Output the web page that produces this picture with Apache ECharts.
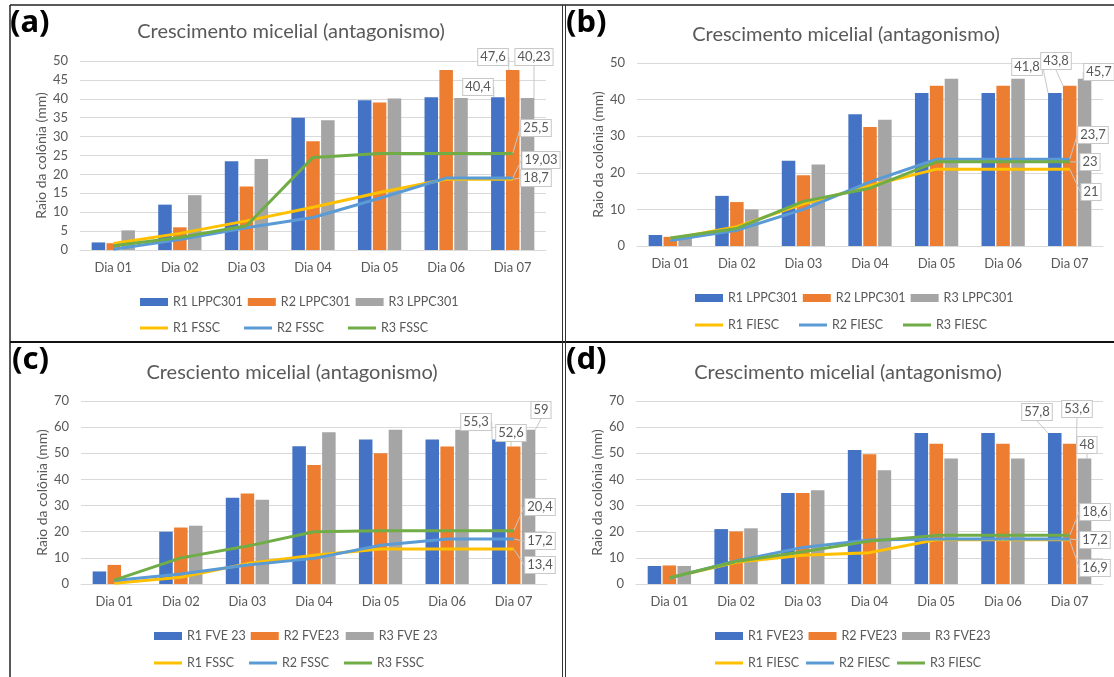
<!DOCTYPE html>
<html>
<head>
<meta charset="utf-8">
<script src="https://cdn.jsdelivr.net/npm/echarts@6/dist/echarts.min.js"></script>
<style>
  html, body { margin: 0; padding: 0; background: #fff; }
  #chart { width: 1114px; height: 677px; }
</style>
</head>
<body>
<div id="chart"></div>
<script>
// categories
var days = ['Dia 01', 'Dia 02', 'Dia 03', 'Dia 04', 'Dia 05', 'Dia 06', 'Dia 07'];

// (a) LPPC301 x FSSC
var aR1Bar = [2, 12, 23.5, 35, 39.6, 40.4, 40.4];
var aR2Bar = [1.8, 6, 16.8, 28.8, 39, 47.6, 47.6];
var aR3Bar = [5.2, 14.5, 24.1, 34.3, 40.1, 40.23, 40.23];
var aR1Line = [1.7, 4.4, 7.7, 11.3, 15.2, 18.7, 18.7];
var aR2Line = [0.2, 2.8, 5.9, 8.6, 13.7, 19.03, 19.03];
var aR3Line = [1.1, 3.3, 6.4, 24.5, 25.5, 25.5, 25.5];

// (b) LPPC301 x FIESC
var bR1Bar = [3, 13.7, 23.3, 36, 41.8, 41.8, 41.8];
var bR2Bar = [2.5, 12, 19.3, 32.5, 43.8, 43.8, 43.8];
var bR3Bar = [2.2, 10, 22.3, 34.5, 45.7, 45.7, 45.7];
var bR1Line = [1.9, 5.3, 11.5, 16.5, 21, 21, 21];
var bR2Line = [1.5, 4.3, 10, 17.5, 23.7, 23.7, 23.7];
var bR3Line = [2.2, 4.8, 12.2, 15.8, 23, 23, 23];

// (c) FVE 23 x FSSC
var cR1Bar = [4.8, 20, 33, 52.7, 55.3, 55.3, 55.3];
var cR2Bar = [7.3, 21.6, 34.6, 45.5, 50, 52.6, 52.6];
var cR3Bar = [0, 22.3, 32.2, 58, 59, 59, 59];
var cR1Line = [0.3, 2.6, 7.8, 11, 13.4, 13.4, 13.4];
var cR2Line = [1.3, 3.8, 7.3, 9.8, 14.8, 17.2, 17.2];
var cR3Line = [1.5, 10, 14.5, 20, 20.4, 20.4, 20.4];

// (d) FVE23 x FIESC
var dR1Bar = [6.9, 21, 34.8, 51.3, 57.8, 57.8, 57.8];
var dR2Bar = [7.1, 20.1, 34.8, 49.6, 53.6, 53.6, 53.6];
var dR3Bar = [6.9, 21.3, 35.9, 43.5, 48, 48, 48];
var dR1Line = [2.3, 8.3, 11, 12, 16.9, 16.9, 16.9];
var dR2Line = [2.2, 8.8, 14, 16.8, 17.2, 17.2, 17.2];
var dR3Line = [2.4, 8.6, 12.3, 16.4, 18.6, 18.6, 18.6];

// legend names
var aBarNames = ['R1 LPPC301', 'R2 LPPC301', 'R3 LPPC301'];
var aLineNames = ['R1 FSSC', 'R2 FSSC', 'R3 FSSC'];
var bLineNames = ['R1 FIESC', 'R2 FIESC', 'R3 FIESC'];
var cBarNames = ['R1 FVE 23', 'R2 FVE23', 'R3 FVE 23'];
var dBarNames = ['R1 FVE23', 'R2 FVE23', 'R3 FVE23'];

var FONT = 'Lato';
var TXT = '#595959';
var barColors = ['#4472C4', '#ED7D31', '#A5A5A5'];
var lineColors = ['#FFC000', '#5B9BD5', '#70AD47'];

function fmt(p) {
    return String(p.value).replace('.', ',');
}

function mk(type, name, vals, k, gi, pos) {
    var last = vals.length - 1;
    var s = {
        type: type,
        name: name,
        xAxisIndex: gi,
        yAxisIndex: gi,
        data: vals.map(function (v, i) {
            return i === last ? {value: v, label: {show: true}} : v;
        }),
        label: {
            show: false, formatter: fmt, color: TXT, fontFamily: FONT, fontSize: 13,
            backgroundColor: '#fff', borderColor: '#c8c8c8', borderWidth: 1, padding: [2, 2, 1, 2]
        },
        labelLine: {show: true, lineStyle: {color: '#c8c8c8', width: 1}},
        labelLayout: {x: pos[0], y: pos[1], align: 'center', verticalAlign: 'middle'},
        animation: false
    };
    if (type === 'line') {
        s.symbol = 'circle';
        s.symbolSize = 1;
        s.itemStyle = {color: lineColors[k]};
        s.lineStyle = {width: 3, color: lineColors[k]};
        s.z = 3;
    } else {
        s.itemStyle = {color: barColors[k]};
        s.barGap = '10%';
        s.barCategoryGap = '35%';
    }
    return s;
}

var series = [].concat(
    mk('bar', aBarNames[0], aR1Bar, 0, 0, [478, 87]),
    mk('bar', aBarNames[1], aR2Bar, 1, 0, [493, 57]),
    mk('bar', aBarNames[2], aR3Bar, 2, 0, [534, 57]),
    mk('line', aLineNames[0], aR1Line, 0, 0, [536, 178]),
    mk('line', aLineNames[1], aR2Line, 1, 0, [541, 160]),
    mk('line', aLineNames[2], aR3Line, 2, 0, [536, 128]),

    mk('bar', aBarNames[0], bR1Bar, 0, 1, [1027, 67]),
    mk('bar', aBarNames[1], bR2Bar, 1, 1, [1056, 61]),
    mk('bar', aBarNames[2], bR3Bar, 2, 1, [1099, 72]),
    mk('line', bLineNames[0], bR1Line, 0, 1, [1091, 192]),
    mk('line', bLineNames[1], bR2Line, 1, 1, [1093, 135]),
    mk('line', bLineNames[2], bR3Line, 2, 1, [1090, 162]),

    mk('bar', cBarNames[0], cR1Bar, 0, 2, [476, 422]),
    mk('bar', cBarNames[1], cR2Bar, 1, 2, [511, 433]),
    mk('bar', cBarNames[2], cR3Bar, 2, 2, [541, 410]),
    mk('line', aLineNames[0], cR1Line, 0, 2, [540, 565]),
    mk('line', aLineNames[1], cR2Line, 1, 2, [540, 541]),
    mk('line', aLineNames[2], cR3Line, 2, 2, [540, 507]),

    mk('bar', dBarNames[0], dR1Bar, 0, 3, [1037, 412]),
    mk('bar', dBarNames[1], dR2Bar, 1, 3, [1077, 409]),
    mk('bar', dBarNames[2], dR3Bar, 2, 3, [1087, 445]),
    mk('line', bLineNames[0], dR1Line, 0, 3, [1095, 568]),
    mk('line', bLineNames[1], dR2Line, 1, 3, [1095, 540]),
    mk('line', bLineNames[2], dR3Line, 2, 3, [1095, 512])
);

var grids = [
    {left: 80, top: 61, width: 466, height: 189},
    {left: 637, top: 63, width: 466, height: 183},
    {left: 81, top: 401, width: 466, height: 183},
    {left: 636, top: 401, width: 467, height: 183}
];
var yMax = [50, 50, 70, 70];
var yStep = [5, 10, 10, 10];

var xAxes = grids.map(function (g, i) {
    return {
        type: 'category', gridIndex: i, data: days,
        axisLine: {lineStyle: {color: '#d9d9d9'}},
        axisTick: {show: false},
        axisLabel: {color: TXT, fontFamily: FONT, fontSize: 13, margin: 11}
    };
});
var yAxes = grids.map(function (g, i) {
    return {
        type: 'value', gridIndex: i, min: 0, max: yMax[i], interval: yStep[i],
        name: 'Raio da colônia (mm)', nameLocation: 'middle', nameGap: 32,
        nameTextStyle: {color: TXT, fontFamily: FONT, fontSize: 14},
        axisLine: {show: false}, axisTick: {show: false},
        axisLabel: {color: TXT, fontFamily: FONT, fontSize: 13, margin: 12},
        splitLine: {lineStyle: {color: '#d9d9d9'}}
    };
});

function lg(left, top, names, w, isLine) {
    return {
        left: left, top: top, orient: 'horizontal', icon: 'rect',
        itemWidth: 28, itemHeight: isLine ? 3 : 8, itemGap: 5,
        selectedMode: false, data: names,
        textStyle: {color: TXT, fontFamily: FONT, fontSize: 12.5, width: w, lineHeight: 16}
    };
}

var titleText = ['Crescimento micelial (antagonismo)', 'Crescimento micelial (antagonismo)',
    'Cresciento micelial (antagonismo)', 'Crescimento micelial (antagonismo)'];
var titlePos = [[286, 17], [841, 20], [287, 358], [843, 358]];

var option = {
    backgroundColor: '#fff',
    animation: false,
    title: titleText.map(function (t, i) {
        return {
            text: t, left: titlePos[i][0], top: titlePos[i][1], textAlign: 'center',
            textStyle: {color: TXT, fontFamily: FONT, fontSize: 20, fontWeight: 'normal'}
        };
    }),
    grid: grids,
    xAxis: xAxes,
    yAxis: yAxes,
    legend: [
        lg(135, 289, aBarNames, 66, false), lg(135, 315, aLineNames, 66, true),
        lg(690, 285, aBarNames, 66, false), lg(690, 312, bLineNames, 66, true),
        lg(149, 623, cBarNames, 57, false), lg(149, 650, aLineNames, 57, true),
        lg(710, 623, dBarNames, 53, false), lg(710, 650, bLineNames, 53, true)
    ],
    series: series,
    graphic: [
        {type: 'line', shape: {x1: 10, y1: 5, x2: 1114, y2: 5}, style: {stroke: '#222', lineWidth: 1.5}},
        {type: 'line', shape: {x1: 10, y1: 5, x2: 10, y2: 677}, style: {stroke: '#222', lineWidth: 1.5}},
        {type: 'line', shape: {x1: 10, y1: 342, x2: 1114, y2: 342}, style: {stroke: '#111', lineWidth: 2}},
        {type: 'line', shape: {x1: 562.5, y1: 5, x2: 562.5, y2: 677}, style: {stroke: '#333', lineWidth: 1}},
        {type: 'line', shape: {x1: 565.5, y1: 5, x2: 565.5, y2: 677}, style: {stroke: '#333', lineWidth: 1}},
        {type: 'text', left: 10, top: 8, style: {text: '(a)', font: 'bold 31px "Noto Sans"', fill: '#000'}},
        {type: 'text', left: 566, top: 8, style: {text: '(b)', font: 'bold 31px "Noto Sans"', fill: '#000'}},
        {type: 'text', left: 12, top: 345, style: {text: '(c)', font: 'bold 31px "Noto Sans"', fill: '#000'}},
        {type: 'text', left: 566, top: 345, style: {text: '(d)', font: 'bold 31px "Noto Sans"', fill: '#000'}}
    ]
};

var myChart = echarts.init(document.getElementById('chart'));
myChart.setOption(option);
</script>
</body>
</html>
